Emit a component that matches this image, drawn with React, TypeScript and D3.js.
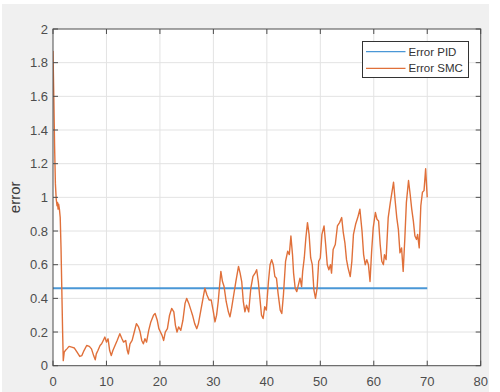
import React from 'react';
import * as d3 from 'd3';

// chart values
const xTicks = [0, 10, 20, 30, 40, 50, 60, 70, 80];
const yTicks = [0, 0.2, 0.4, 0.6, 0.8, 1, 1.2, 1.4, 1.6, 1.8, 2];

const pidT = [0, 70];
const pidErr = [0.46, 0.46];

const smcT = [
  0, 0.15, 0.3, 0.45, 0.6, 0.75, 0.85, 0.95, 1.05, 1.2, 1.35, 1.5, 1.65, 1.8, 1.92,
  2.1, 2.3, 2.6, 3.0, 3.5, 4.0, 4.5, 5.0, 5.4, 5.8, 6.3, 6.8, 7.2, 7.6, 7.9,
  8.1, 8.4, 8.8, 9.1, 9.4, 9.7, 10.0, 10.3, 10.6, 10.9, 11.2, 11.6, 12.0, 12.5, 12.9,
  13.2, 13.6, 13.9, 14.1, 14.4, 14.8, 15.2, 15.6, 16.0, 16.3, 16.6, 16.9, 17.2, 17.5, 17.9,
  18.3, 18.8, 19.1, 19.5, 19.8, 20.1, 20.4, 20.7, 21.0, 21.4, 21.8, 22.2, 22.6, 22.9, 23.2,
  23.5, 23.9, 24.3, 24.7, 25.0, 25.4, 25.8, 26.1, 26.5, 26.9, 27.2, 27.6, 28.0, 28.4, 28.8,
  29.2, 29.6, 30.0, 30.3, 30.6, 30.9, 31.2, 31.4, 31.7, 32.0, 32.4, 32.8, 33.1, 33.4, 33.8,
  34.2, 34.7, 35.0, 35.3, 35.6, 35.9, 36.2, 36.6, 37.0, 37.4, 37.8, 38.1, 38.4, 38.7, 39.0,
  39.3, 39.6, 39.9, 40.3, 40.6, 40.9, 41.2, 41.5, 41.8, 42.1, 42.5, 42.8, 43.1, 43.5, 43.9,
  44.2, 44.5, 44.8, 45.0, 45.3, 45.6, 45.9, 46.2, 46.5, 46.7, 47.0, 47.3, 47.6, 47.9, 48.2,
  48.5, 48.8, 49.1, 49.4, 49.7, 50.0, 50.3, 50.7, 51.0, 51.3, 51.6, 51.9, 52.1, 52.4, 52.8,
  53.2, 53.6, 54.0, 54.3, 54.6, 54.9, 55.2, 55.6, 55.9, 56.2, 56.6, 57.0, 57.4, 57.8, 58.1,
  58.4, 58.7, 59.0, 59.3, 59.6, 59.9, 60.3, 60.6, 60.9, 61.2, 61.5, 61.8, 62.0, 62.3, 62.7,
  63.1, 63.5, 63.7, 64.0, 64.3, 64.6, 64.9, 65.2, 65.5, 65.8, 66.1, 66.5, 66.8, 67.1, 67.4,
  67.7, 68.0, 68.2, 68.5, 68.8, 69.1, 69.4, 69.7, 70.0,
];
const smcErr = [
  1.87, 1.6, 1.3, 1.08, 0.99, 0.95, 0.97, 0.93, 0.96, 0.93, 0.88, 0.7, 0.45, 0.2, 0.03,
  0.08, 0.09, 0.1, 0.115, 0.11, 0.105, 0.08, 0.055, 0.06, 0.09, 0.12, 0.115, 0.1, 0.06, 0.035,
  0.07, 0.09, 0.12, 0.13, 0.15, 0.17, 0.14, 0.16, 0.09, 0.06, 0.09, 0.12, 0.15, 0.19, 0.16,
  0.14, 0.15, 0.09, 0.07, 0.13, 0.15, 0.2, 0.25, 0.23, 0.2, 0.15, 0.13, 0.16, 0.14, 0.21,
  0.26, 0.3, 0.31, 0.27, 0.22, 0.2, 0.18, 0.15, 0.2, 0.22, 0.3, 0.34, 0.32, 0.24, 0.2,
  0.23, 0.21, 0.27, 0.37, 0.4, 0.37, 0.33, 0.3, 0.25, 0.22, 0.25, 0.32, 0.39, 0.46, 0.42,
  0.39, 0.39, 0.32, 0.26, 0.3, 0.38, 0.49, 0.56, 0.5, 0.47, 0.38, 0.32, 0.29, 0.34, 0.42,
  0.5, 0.59, 0.55, 0.5, 0.38, 0.32, 0.36, 0.32, 0.46, 0.53, 0.55, 0.57, 0.5, 0.4, 0.3,
  0.28, 0.35, 0.33, 0.5, 0.6, 0.63, 0.6, 0.53, 0.52, 0.43, 0.33, 0.31, 0.42, 0.62, 0.68,
  0.66, 0.77, 0.66, 0.55, 0.46, 0.44, 0.48, 0.52, 0.47, 0.56, 0.64, 0.76, 0.85, 0.78, 0.64,
  0.6, 0.45, 0.4, 0.46, 0.62, 0.64, 0.78, 0.83, 0.72, 0.6, 0.57, 0.6, 0.55, 0.69, 0.72,
  0.83, 0.85, 0.88, 0.79, 0.73, 0.63, 0.58, 0.53, 0.62, 0.78, 0.84, 0.88, 0.93, 0.8, 0.66,
  0.6, 0.63, 0.6, 0.5, 0.68, 0.82, 0.91, 0.87, 0.86, 0.72, 0.62, 0.6, 0.66, 0.63, 0.88,
  0.97, 1.05, 1.09, 0.98, 0.88, 0.81, 0.67, 0.7, 0.56, 0.75, 0.97, 1.1, 1.02, 0.93, 0.86,
  0.77, 0.75, 0.78, 0.7, 0.95, 1.03, 1.04, 1.17, 1.0,
];

const seriesNames = ['Error PID', 'Error SMC'];
const seriesColors = ['#4a97d6', '#e0703a'];

const W = 500;
const H = 392;
const left = 53;
const right = 480.7;
const top = 29;
const bottom = 365.7;
const font = '"Liberation Sans", Arial, sans-serif';

export default function App() {
  const x = d3.scaleLinear().domain([0, 80]).range([left, right]);
  const y = d3.scaleLinear().domain([0, 2]).range([bottom, top]);

  const line = d3.line<[number, number]>()
    .x(d => x(d[0]))
    .y(d => y(d[1]));

  const pid = pidT.map((t, i) => [t, pidErr[i]] as [number, number]);
  const smc = smcT.map((t, i) => [t, smcErr[i]] as [number, number]);

  const tickLen = 5;

  return (
    <svg width={W} height={H} style={{ position: 'absolute', left: 0, top: 0 }}>
      <rect x={2} y={4} width={487} height={388} fill="#f0f0f0" />
      <rect x={left} y={top} width={right - left} height={bottom - top} fill="#fff" />
      <defs>
        <clipPath id="plot">
          <rect x={left} y={top} width={right - left} height={bottom - top} />
        </clipPath>
      </defs>

      {/* grid */}
      {xTicks.slice(1, -1).map(t => (
        <line key={'gx' + t} x1={x(t)} x2={x(t)} y1={top} y2={bottom} stroke="#e3e3e3" strokeWidth={1} />
      ))}
      {yTicks.slice(1, -1).map(t => (
        <line key={'gy' + t} x1={left} x2={right} y1={y(t)} y2={y(t)} stroke="#e3e3e3" strokeWidth={1} />
      ))}

      {/* series */}
      <g clipPath="url(#plot)" fill="none">
        <path d={line(pid) || ''} stroke={seriesColors[0]} strokeWidth={1.8} />
        <path d={line(smc) || ''} stroke={seriesColors[1]} strokeWidth={1.4} strokeLinejoin="round" />
      </g>

      {/* ticks, inward on all sides */}
      {xTicks.map(t => (
        <g key={'tx' + t} stroke="#4d4d4d">
          <line x1={x(t)} x2={x(t)} y1={bottom} y2={bottom - tickLen} />
          <line x1={x(t)} x2={x(t)} y1={top} y2={top + tickLen} />
        </g>
      ))}
      {yTicks.map(t => (
        <g key={'ty' + t} stroke="#4d4d4d">
          <line x1={left} x2={left + tickLen} y1={y(t)} y2={y(t)} />
          <line x1={right} x2={right - tickLen} y1={y(t)} y2={y(t)} />
        </g>
      ))}
      <rect x={left} y={top} width={right - left} height={bottom - top} fill="none" stroke="#4d4d4d" strokeWidth={1} />

      {/* tick labels */}
      {xTicks.map(t => (
        <text key={'lx' + t} x={x(t)} y={bottom + 20} textAnchor="middle" fontFamily={font} fontSize={13} fill="#4d4d4d">
          {t}
        </text>
      ))}
      {yTicks.map(t => (
        <text key={'ly' + t} x={left - 5} y={y(t) + 4.5} textAnchor="end" fontFamily={font} fontSize={13} fill="#4d4d4d">
          {t}
        </text>
      ))}

      <text
        transform={`translate(20,${(top + bottom) / 2}) rotate(-90)`}
        textAnchor="middle"
        fontFamily={font}
        fontSize={15}
        fill="#3a3a3a"
      >
        error
      </text>

      {/* legend */}
      <rect x={362.5} y={41.5} width={106} height={36} fill="#fff" stroke="#333" strokeWidth={1} />
      {seriesNames.map((name, i) => (
        <g key={name}>
          <line x1={366} x2={405.5} y1={51.7 + i * 16.6} y2={51.7 + i * 16.6} stroke={seriesColors[i]} strokeWidth={1.3} />
          <text x={408.5} y={55.8 + i * 16.6} fontFamily={font} fontSize={11.5} fill="#333">
            {name}
          </text>
        </g>
      ))}
    </svg>
  );
}
